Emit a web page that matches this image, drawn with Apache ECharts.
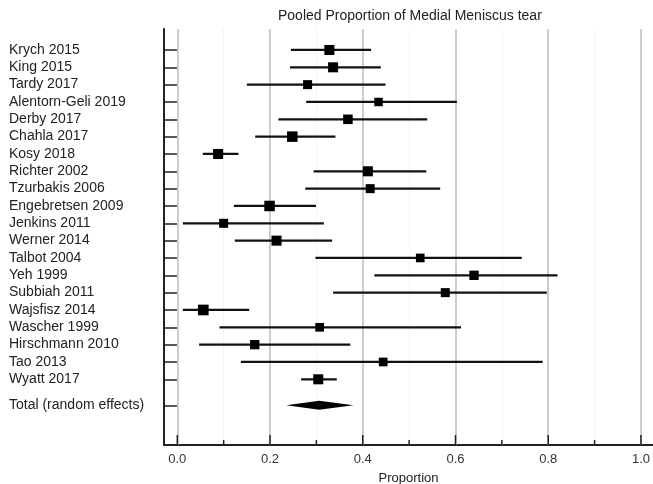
<!DOCTYPE html>
<html>
<head>
<meta charset="utf-8">
<script src="https://cdn.jsdelivr.net/npm/echarts@6/dist/echarts.min.js"></script>
<style>html,body{margin:0;padding:0;background:#fff}#c{width:653px;height:484px}</style>
</head>
<body>
<div id="c"></div>
<script>
const studies = ["Krych 2015","King 2015","Tardy 2017","Alentorn-Geli 2019","Derby 2017","Chahla 2017","Kosy 2018","Richter 2002","Tzurbakis 2006","Engebretsen 2009","Jenkins 2011","Werner 2014","Talbot 2004","Yeh 1999","Subbiah 2011","Wajsfisz 2014","Wascher 1999","Hirschmann 2010","Tao 2013","Wyatt 2017"];
const estimate = [0.328,0.336,0.281,0.434,0.368,0.248,0.088,0.411,0.416,0.199,0.100,0.214,0.524,0.640,0.578,0.056,0.307,0.167,0.444,0.304];
const lower    = [0.245,0.243,0.150,0.278,0.218,0.168,0.055,0.294,0.276,0.122,0.012,0.124,0.298,0.425,0.336,0.012,0.091,0.047,0.137,0.267];
const upper    = [0.418,0.439,0.449,0.603,0.539,0.341,0.132,0.537,0.567,0.299,0.316,0.334,0.743,0.820,0.797,0.155,0.612,0.373,0.788,0.344];
const weights  = [5.2,5.2,4.2,3.7,4.7,5.7,5.2,5.2,4.2,5.7,4.2,5.2,3.9,4.5,4.2,5.9,3.9,4.5,3.9,5.2];
const totalLabel = "Total (random effects)";
const total = {est:0.306, lo:0.235, hi:0.380};
const xMajor = [0,0.2,0.4,0.6,0.8,1.0];
const xMinor = [0.1,0.3,0.5,0.7,0.9];
const xTickLabels = ["0.0","0.2","0.4","0.6","0.8","1.0"];

const totalRow = 20.5;
const rowVals = studies.map((s,i)=>i).concat([totalRow]);
const rowNames = studies.concat([totalLabel]);
const FONT = "Liberation Sans, Arial, sans-serif";

const chart = echarts.init(document.getElementById('c'), null, {renderer:'canvas'});
const xMin = -0.0287, xMax = 1.026;
const yMin = -1.21, yMax = 22.79;
chart.setOption({
  animation:false,
  backgroundColor:'#fff',
  title:{text:'Pooled Proportion of Medial Meniscus tear', left:278, top:9, padding:0,
    textStyle:{fontFamily:FONT,fontSize:14,fontWeight:'normal',color:'#222'}},
  grid:{left:164,right:0,top:29,bottom:39,containLabel:false,outerBoundsMode:'none'},
  xAxis:{
    type:'value', min:xMin, max:xMax, position:'bottom',
    axisLine:{show:true,onZero:false,lineStyle:{color:'#222',width:2}},
    axisTick:{show:false},
    axisLabel:{show:true,customValues:xMajor,margin:8,fontFamily:FONT,fontSize:13,color:'#333',
      formatter:(v)=>{const i=xMajor.findIndex(m=>Math.abs(m-v)<1e-6);return i>=0?xTickLabels[i]:'';}},
    splitLine:{show:false},
    name:'Proportion', nameLocation:'middle', nameGap:27,
    nameTextStyle:{fontFamily:FONT,fontSize:13,color:'#222'}
  },
  yAxis:{
    type:'value', inverse:true, min:yMin, max:yMax,
    axisLine:{show:true,onZero:false,lineStyle:{color:'#222',width:2}},
    axisTick:{show:true,inside:true,length:13,customValues:rowVals,lineStyle:{color:'#222',width:1.5}},
    axisLabel:{show:true,customValues:rowVals,align:'left',margin:155,fontFamily:FONT,fontSize:14,color:'#222',
      formatter:(v)=>{const i=rowVals.findIndex(r=>Math.abs(r-v)<1e-6);return i>=0?rowNames[i]:'';}},
    splitLine:{show:false}
  },
  series:[
    {
      type:'line', data:[], silent:true, z:1,
      markLine:{silent:true,symbol:'none',label:{show:false},z:1,
        lineStyle:{color:'#f3f3f3',width:1,type:'solid'},
        data:xMinor.map(v=>({xAxis:v}))}
    },
    {
      type:'line', data:[], silent:true, z:1,
      markLine:{silent:true,symbol:'none',label:{show:false},z:1,
        lineStyle:{color:'#bdbdbd',width:1.5,type:'solid'},
        data:xMajor.map(v=>({xAxis:v}))}
    },
    {
      type:'custom', silent:true, z:4, clip:false,
      data: xMajor.map(v=>[v,10]).concat(xMinor.map(v=>[v,5])),
      renderItem:(params,api)=>{
        const p=api.coord([api.value(0),yMax]);
        return {type:'line',shape:{x1:p[0],y1:p[1],x2:p[0],y2:p[1]-api.value(1)},style:{stroke:'#222',lineWidth:1.5}};
      }
    },
    {
      type:'custom', silent:true, z:3,
      data: studies.map((s,i)=>[lower[i],upper[i],i]),
      renderItem:(params,api)=>{
        const a=api.coord([api.value(0),api.value(2)]);
        const b=api.coord([api.value(1),api.value(2)]);
        return {type:'line',shape:{x1:a[0],y1:a[1],x2:b[0],y2:b[1]},style:{stroke:'#111',lineWidth:2.2}};
      }
    },
    {
      type:'scatter', silent:true, symbol:'rect', z:5,
      data: studies.map((s,i)=>[estimate[i],i,weights[i]]),
      symbolSize:(v)=>Math.sqrt(v[2])*4.4,
      itemStyle:{color:'#000',opacity:1}
    },
    {
      type:'custom', silent:true, z:5,
      data:[[total.lo,total.est,total.hi,totalRow]],
      renderItem:(params,api)=>{
        const l=api.coord([api.value(0),api.value(3)]);
        const c=api.coord([api.value(1),api.value(3)]);
        const r=api.coord([api.value(2),api.value(3)]);
        return {type:'polygon',shape:{points:[[l[0],l[1]],[c[0],c[1]-4.5],[r[0],r[1]],[c[0],c[1]+4.5]]},style:{fill:'#000'}};
      }
    }
  ]
});
</script>
</body>
</html>
